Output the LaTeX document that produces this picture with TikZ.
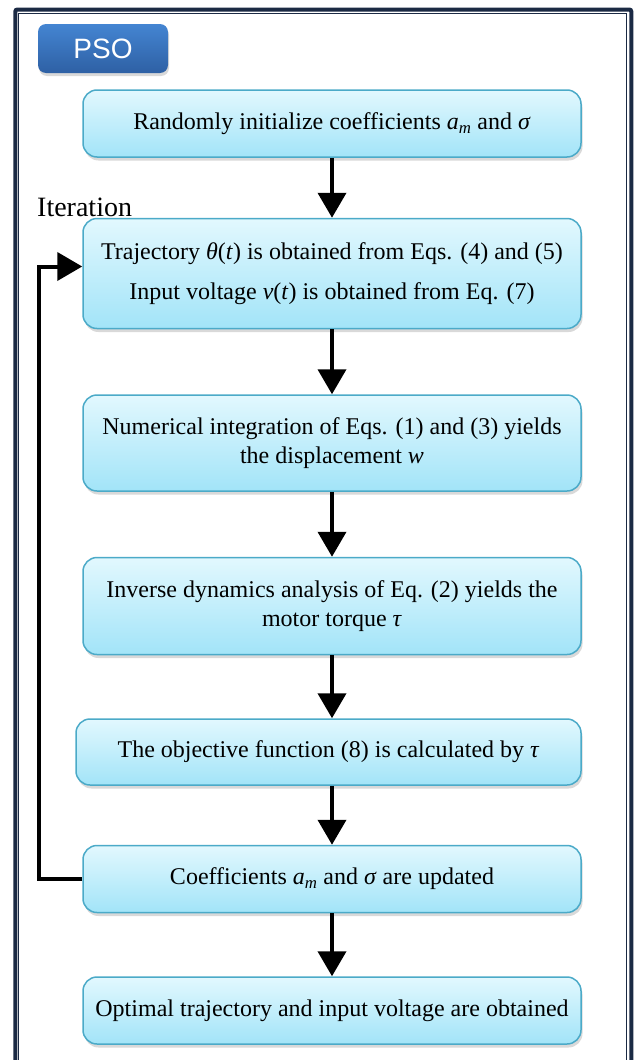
\documentclass[tikz,border=0pt]{standalone}
\usepackage{fontspec}
\setmainfont{Liberation Serif}
\newfontfamily\tabfont{Liberation Sans}
\usetikzlibrary{positioning}
\usetikzlibrary {arrows.meta}
\usetikzlibrary{shadows}
\definecolor{framenavy}{HTML}{1B2A44}
\definecolor{boxtop}{HTML}{E2F8FE}
\definecolor{boxbot}{HTML}{A2E4F8}
\definecolor{boxline}{HTML}{4BAAC8}
\definecolor{tabtop}{HTML}{4485D2}
\definecolor{tabbot}{HTML}{2E60A4}
\tikzset{flowbox/.style={rectangle,rounded corners=14pt,draw=boxline,line width=1.5pt,
top color=boxtop,bottom color=boxbot,inner sep=2pt,minimum width=498pt,align=center,
font=\fontsize{24}{29}\selectfont,
drop shadow={opacity=0.3,shadow xshift=1.5pt,shadow yshift=-3.5pt}}}
\tikzset{tabbox/.style={rectangle,rounded corners=8pt,draw=none,
top color=tabtop,bottom color=tabbot,inner sep=2pt,minimum width=130pt,minimum height=49pt,
text=white,font=\tabfont\fontsize{28}{30}\selectfont,
drop shadow={opacity=0.3,shadow xshift=1pt,shadow yshift=-3pt}}}
\tikzset{flowarrow/.style={line width=4pt,-{Triangle[length=25pt,width=28pt]}}}

\begin{document}
\begin{tikzpicture}[x=1pt,y=1pt]

        \useasboundingbox (0,0) rectangle (638,-1060);
        \draw[framenavy, line width=4pt, rounded corners=2pt] (15.3,-9.5) rectangle (631.3,-1090);
        \draw[framenavy, line width=0.8pt] (18.8,-13.3) rectangle (626.8,-1090);

        \node[tabbox] (tabPSO) at (103,-48.5) {PSO};

        \node[flowbox, minimum height=67pt] (boxA) at (332,-123.5)
            {Randomly initialize coefficients \textit{a}\textsubscript{\textit{m}} and \textit{σ}};
        \node[flowbox, minimum height=110pt] (boxB) [below=60pt of boxA]
            {Trajectory \textit{θ}(\textit{t}) is obtained from Eqs. (4) and (5)\\[11pt]
             Input voltage \textit{v}(\textit{t}) is obtained from Eq. (7)};
        \node[flowbox, minimum height=96pt] (boxC) [below=65pt of boxB]
            {Numerical integration of Eqs. (1) and (3) yields\\the displacement \textit{w}};
        \node[flowbox, minimum height=97pt] (boxD) [below=65pt of boxC]
            {Inverse dynamics analysis of Eq. (2) yields the\\motor torque \textit{τ}};
        \node[flowbox, minimum height=66pt, minimum width=505pt] (boxE) [below=63pt of boxD, xshift=-3.5pt]
            {The objective function (8) is calculated by \textit{τ}};
        \node[flowbox, minimum height=67pt] (boxF) [below=59pt of boxE, xshift=3.5pt]
            {Coefficients \textit{a}\textsubscript{\textit{m}} and \textit{σ} are updated};
        \node[flowbox, minimum height=67pt] (boxG) [below=63pt of boxF]
            {Optimal trajectory and input voltage are obtained};

        \node[anchor=base west, font=\fontsize{28}{30}\selectfont, inner sep=0pt] (iterLabel) at (37,-216) {Iteration};

        \draw[flowarrow] (boxA.south) -- (boxB.north);
        \draw[flowarrow] (boxB.south) -- (boxC.north);
        \draw[flowarrow] (boxC.south) -- (boxD.north);
        \draw[flowarrow] (boxD.south) -- ([xshift=3.5pt]boxE.north);
        \draw[flowarrow] ([xshift=3.5pt]boxE.south) -- (boxF.north);
        \draw[flowarrow] (boxF.south) -- (boxG.north);

        \draw[flowarrow, rounded corners=0pt] (boxF.west) -- ++(-43pt,0) |- ([yshift=7pt]boxB.west);

\end{tikzpicture}
\end{document}
